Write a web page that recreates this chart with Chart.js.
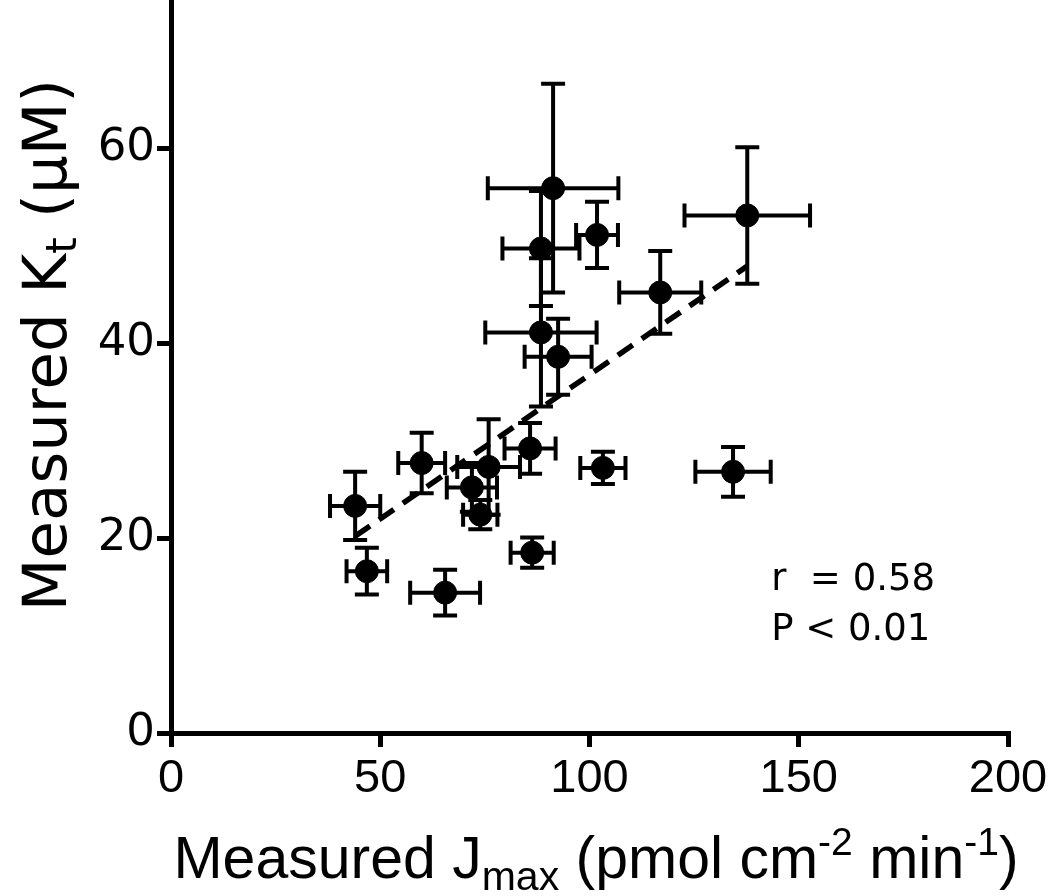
<!DOCTYPE html>
<html>
<head>
<meta charset="utf-8">
<script src="https://cdn.jsdelivr.net/npm/chart.js@4"></script>
<style>
  body { margin: 0; background: #fff; }
  #wrap { width: 1050px; height: 896px; }
</style>
</head>
<body>
<div id="wrap"><canvas id="ktChart"></canvas></div>
<script>
// values
const jmax    = [44.0, 46.8, 59.9, 65.5, 71.9, 75.9, 73.9, 85.8, 86.3, 91.3, 88.4, 101.8, 88.4, 92.5, 116.9, 137.7, 134.3, 103.2];
const jmaxErr = [6.0, 4.85, 5.6, 8.35, 6.0, 7.5, 4.1, 6.1, 5.15, 15.6, 9.2, 5.0, 13.3, 8.0, 9.8, 15.0, 9.0, 5.4];
const kt      = [23.3, 16.6, 27.7, 14.4, 25.2, 27.3, 22.4, 29.2, 18.5, 55.9, 49.7, 51.1, 41.1, 38.6, 45.2, 53.1, 26.8, 27.2];
const ktErr   = [3.5, 2.4, 3.1, 2.35, 2.5, 4.9, 1.5, 2.6, 1.55, 10.7, 5.9, 3.4, 7.6, 3.9, 4.25, 7.0, 2.55, 1.65];

// regression line ends
const fitX = [44.0, 137.7];
const fitY = [20.2, 47.9];

const xTicks = [0, 50, 100, 150, 200];
const yTicks = [0, 20, 40, 60];

const statsText = ['r  = 0.58', 'P < 0.01'];
const statsAt = { x: 143.4, y: 14.7 };

const points = jmax.map((v, i) => ({ x: v, y: kt[i] }));
const fitLine = fitX.map((v, i) => ({ x: v, y: fitY[i] }));

// error bars, drawn under the dots
const errorBars = {
  id: 'errorBars',
  beforeDatasetsDraw(chart) {
    const { ctx, scales: { x, y } } = chart;
    const cap = 12;
    ctx.save();
    ctx.strokeStyle = '#000';
    ctx.lineWidth = 4;
    jmax.forEach((v, i) => {
      const px = x.getPixelForValue(v);
      const py = y.getPixelForValue(kt[i]);
      const xl = x.getPixelForValue(v - jmaxErr[i]);
      const xr = x.getPixelForValue(v + jmaxErr[i]);
      const yt = y.getPixelForValue(kt[i] + ktErr[i]);
      const yb = y.getPixelForValue(kt[i] - ktErr[i]);
      ctx.beginPath();
      ctx.moveTo(xl, py); ctx.lineTo(xr, py);
      ctx.moveTo(xl, py - cap); ctx.lineTo(xl, py + cap);
      ctx.moveTo(xr, py - cap); ctx.lineTo(xr, py + cap);
      ctx.moveTo(px, yt); ctx.lineTo(px, yb);
      ctx.moveTo(px - cap, yt); ctx.lineTo(px + cap, yt);
      ctx.moveTo(px - cap, yb); ctx.lineTo(px + cap, yb);
      ctx.stroke();
    });
    ctx.restore();
  }
};

// draw text parts with sub/superscripts
function drawParts(ctx, parts, x, y, align) {
  let total = 0;
  parts.forEach(p => { ctx.font = p.size + 'px ' + p.family; total += ctx.measureText(p.t).width; });
  let cx = align === 'center' ? x - total / 2 : x;
  parts.forEach(p => {
    ctx.font = p.size + 'px ' + p.family;
    ctx.fillText(p.t, cx, y + (p.dy || 0));
    cx += ctx.measureText(p.t).width;
  });
}

const titles = {
  id: 'titles',
  afterDraw(chart) {
    const { ctx, scales: { x, y } } = chart;
    ctx.save();
    ctx.fillStyle = '#000';
    ctx.textAlign = 'left';
    ctx.textBaseline = 'alphabetic';

    const fx = '"Liberation Sans", Arial, sans-serif';
    drawParts(ctx, [
      { t: 'Measured J', size: 59, family: fx },
      { t: 'max', size: 41, family: fx, dy: 12 },
      { t: ' (pmol cm', size: 59, family: fx },
      { t: '-2', size: 39, family: fx, dy: -23 },
      { t: ' min', size: 59, family: fx },
      { t: '-1', size: 39, family: fx, dy: -23 },
      { t: ')', size: 59, family: fx }
    ], 596, 878, 'center');

    const fy = '"DejaVu Sans", sans-serif';
    ctx.translate(66, 345);
    ctx.rotate(-Math.PI / 2);
    drawParts(ctx, [
      { t: 'Measured K', size: 61, family: fy },
      { t: 't', size: 42, family: fy, dy: 10 },
      { t: ' (\u03bcM)', size: 61, family: fy }
    ], 0, 0, 'center');
    ctx.setTransform(1, 0, 0, 1, 0, 0);

    ctx.font = '37px "DejaVu Sans", sans-serif';
    const sx = x.getPixelForValue(statsAt.x);
    const sy = y.getPixelForValue(statsAt.y);
    ctx.fillText(statsText[0], sx, sy);
    ctx.fillText(statsText[1], sx, sy + 50);
    ctx.restore();
  }
};

const axisGrid = { display: true, drawOnChartArea: false, drawTicks: true, tickLength: 14, lineWidth: 5, color: '#000' };
const axisBorder = { display: true, width: 5, color: '#000' };

new Chart(document.getElementById('ktChart').getContext('2d'), {
  type: 'scatter',
  data: {
    datasets: [{
      label: 'Kt vs Jmax',
      data: points,
      backgroundColor: '#000',
      borderColor: '#000',
      pointRadius: 11.5,
      pointHoverRadius: 11.5
    }, {
      type: 'line',
      label: 'fit',
      data: fitLine,
      borderColor: '#000',
      borderWidth: 5.5,
      borderDash: [18, 11],
      pointRadius: 0,
      fill: false
    }]
  },
  options: {
    responsive: true,
    maintainAspectRatio: false,
    animation: false,
    layout: { autoPadding: false, padding: { top: 2, right: 42, left: 0, bottom: 0 } },
    plugins: {
      legend: { display: false },
      tooltip: { enabled: false }
    },
    scales: {
      x: {
        type: 'linear',
        min: 0, max: 200,
        afterBuildTicks: s => { s.ticks = xTicks.map(v => ({ value: v })); },
        afterFit: s => { s.height = 163; s.paddingLeft = 0; s.paddingRight = 0; },
        grid: axisGrid,
        border: axisBorder,
        ticks: { color: '#000', padding: 4, font: { family: '"Liberation Sans", Arial, sans-serif', size: 47 } }
      },
      y: {
        type: 'linear',
        min: 0, max: 75,
        afterBuildTicks: s => { s.ticks = yTicks.map(v => ({ value: v })); },
        afterFit: s => { s.width = 171; s.paddingTop = 0; s.paddingBottom = 0; },
        grid: axisGrid,
        border: axisBorder,
        ticks: { color: '#000', padding: 2, font: { family: '"DejaVu Sans", sans-serif', size: 45 } }
      }
    }
  },
  plugins: [errorBars, titles]
});
</script>
</body>
</html>
